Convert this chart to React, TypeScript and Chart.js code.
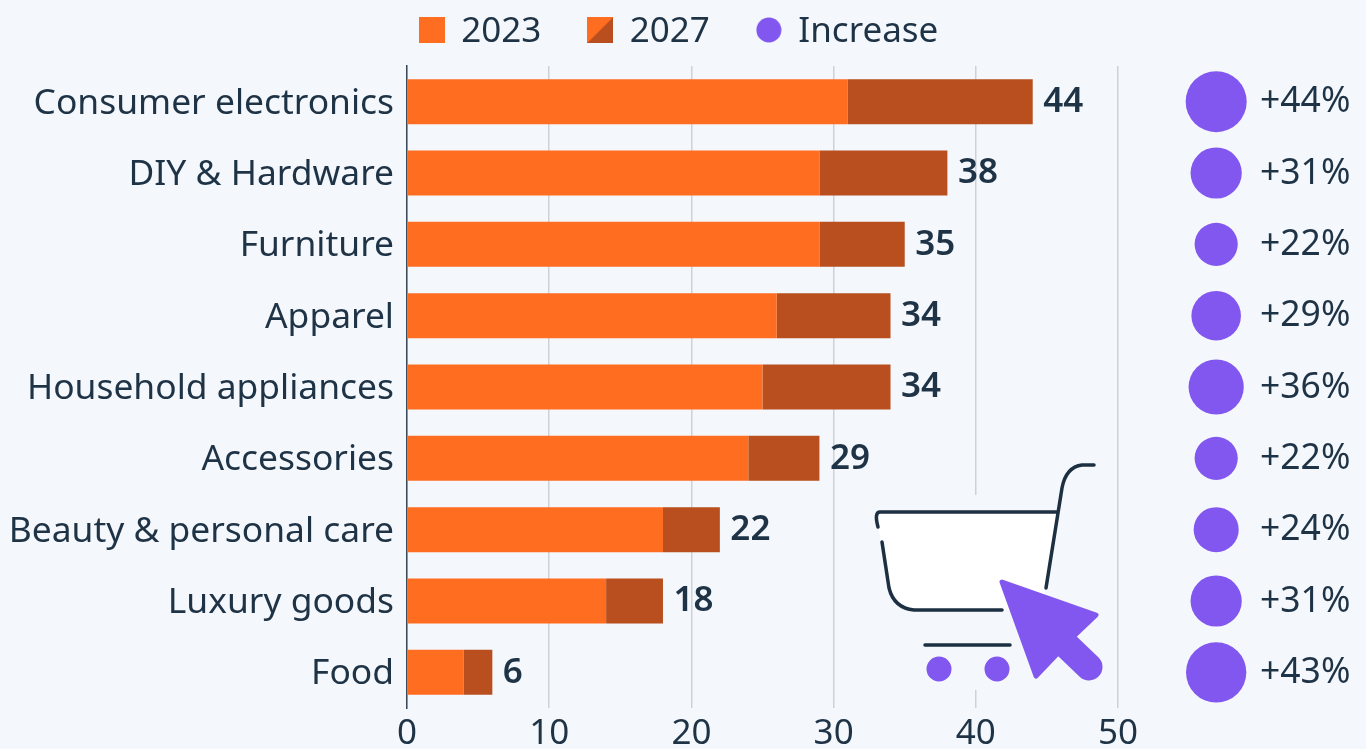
import React, { useEffect, useRef } from "react";
import { Chart, registerables } from "chart.js";

Chart.register(...registerables);

const categories = ["Consumer electronics", "DIY & Hardware", "Furniture", "Apparel", "Household appliances", "Accessories", "Beauty & personal care", "Luxury goods", "Food"];
const values2023 = [31, 29, 29, 26, 25, 24, 18, 14, 4];
const values2027 = [44, 38, 35, 34, 34, 29, 22, 18, 6];
const increases = [44, 31, 22, 29, 36, 22, 24, 31, 43];
const xTicks = [0, 10, 20, 30, 40, 50];

const FONT = '"Noto Sans"';
const TEXT = "#1f3346";
const ORANGE = "#ff6d21";
const RUST = "#b94f1f";
const PURPLE = "#8257f0";
const BG = "#f4f7fb";
const GRID = "#cdd2d7";
const BUBBLE_X = 56.9;
const BUBBLE_K = 4.6;
const X_MAX = 65.29;

function swatch(draw: (c: CanvasRenderingContext2D) => void) {
  const cv = document.createElement("canvas");
  cv.width = 26;
  cv.height = 30;
  draw(cv.getContext("2d")!);
  return cv;
}

const legendHeightPlugin = {
  id: "legendHeight",
  beforeLayout(chart: any) {
    const legend = chart.legend;
    if (legend && !legend.__fixedHeight) {
      legend.__fixedHeight = true;
      const fit = legend.fit;
      legend.fit = function () {
        fit.call(legend);
        legend.height = 98.5;
      };
    }
  },
};

const cartPlugin = {
  id: "cart",
  afterDatasetsDraw(chart: any) {
    const c = chart.ctx;
    c.save();
    c.fillStyle = BG;
    c.fillRect(868, 495, 236, 195);
    c.fillStyle = "#ffffff";
    c.beginPath();
    c.moveTo(876, 513);
    c.lineTo(1058, 513);
    c.lineTo(1042, 610);
    c.lineTo(912, 610);
    c.quadraticCurveTo(894, 608, 889, 588);
    c.closePath();
    c.fill();
    c.strokeStyle = "#1c3042";
    c.lineWidth = 3.5;
    c.lineCap = "round";
    c.beginPath();
    c.moveTo(878, 527);
    c.quadraticCurveTo(874, 512, 880, 512);
    c.lineTo(1058, 512);
    c.moveTo(882, 542);
    c.lineTo(889, 588);
    c.quadraticCurveTo(894, 608, 914, 610);
    c.lineTo(1002, 610);
    c.moveTo(1094, 465);
    c.lineTo(1082, 465);
    c.quadraticCurveTo(1066, 467, 1062, 488);
    c.lineTo(1046, 588);
    c.moveTo(925, 645);
    c.lineTo(1010, 645);
    c.stroke();
    c.fillStyle = PURPLE;
    c.beginPath();
    c.arc(939, 669, 12.5, 0, Math.PI * 2);
    c.arc(997, 669, 12.5, 0, Math.PI * 2);
    c.fill();
    c.strokeStyle = PURPLE;
    c.lineJoin = "round";
    c.lineWidth = 5;
    c.beginPath();
    c.moveTo(1002, 582);
    c.lineTo(1096, 615);
    c.lineTo(1075, 635);
    c.lineTo(1057, 654);
    c.lineTo(1036, 676);
    c.closePath();
    c.fill();
    c.stroke();
    c.lineCap = "round";
    c.lineWidth = 27;
    c.beginPath();
    c.moveTo(1066, 645);
    c.lineTo(1089, 667);
    c.stroke();
    c.restore();
  },
};

const labelsPlugin = {
  id: "rowLabels",
  afterDatasetsDraw(chart: any) {
    const c = chart.ctx;
    const totalBars = chart.getDatasetMeta(1).data;
    const bubbles = chart.getDatasetMeta(2).data;
    c.save();
    c.textBaseline = "middle";
    c.textAlign = "left";
    c.fillStyle = TEXT;
    c.font = `600 35px ${FONT}`;
    values2027.forEach((v, i) => {
      c.fillText(String(v), totalBars[i].x + 10.5, totalBars[i].y + 0.5);
    });
    c.font = `400 35.5px ${FONT}`;
    increases.forEach((v, i) => {
      c.fillText(`+${v}%`, 1260, bubbles[i].y + 0.5);
    });
    c.restore();
  },
};

export default function App() {
  const ref = useRef<HTMLCanvasElement | null>(null);
  useEffect(() => {
    document.body.style.margin = "0";
    document.body.style.background = BG;
    const legendIcons = [
      swatch((c) => {
        c.fillStyle = ORANGE;
        c.fillRect(0, 0, 26, 26);
      }),
      swatch((c) => {
        c.fillStyle = ORANGE;
        c.fillRect(0, 0, 26, 26);
        c.fillStyle = RUST;
        c.beginPath();
        c.moveTo(26, 0);
        c.lineTo(26, 26);
        c.lineTo(0, 26);
        c.closePath();
        c.fill();
      }),
      swatch((c) => {
        c.fillStyle = PURPLE;
        c.beginPath();
        c.arc(13, 13, 12.5, 0, Math.PI * 2);
        c.fill();
      }),
    ];
    const chart = new Chart(ref.current!, {
      type: "bar",
      data: {
        labels: categories,
        datasets: [
          { label: "2023", data: values2023, backgroundColor: ORANGE, stack: "s", barPercentage: 0.63, categoryPercentage: 1 },
          { label: "2027", data: values2027.map((v, i) => v - values2023[i]), backgroundColor: RUST, stack: "s", barPercentage: 0.63, categoryPercentage: 1 },
          {
            type: "bubble",
            label: "Increase",
            indexAxis: "x",
            data: increases.map((v, i) => ({ x: BUBBLE_X, y: categories[i], r: BUBBLE_K * Math.sqrt(v) })),
            backgroundColor: PURPLE,
            borderWidth: 0,
            clip: false,
          },
        ] as any,
      },
      options: {
        indexAxis: "y",
        animation: false,
        responsive: false,
        layout: { padding: { top: -32.5, left: -8, right: 0, bottom: 0 } },
        events: [],
        plugins: {
          tooltip: { enabled: false },
          legend: {
            display: true,
            position: "top",
            labels: {
              usePointStyle: true,
              boxWidth: 24,
              boxHeight: 26,
              padding: 47,
              color: TEXT,
              font: { family: FONT, size: 35 },
              generateLabels: () =>
                ["2023", "2027", "Increase"].map((text, i) => ({
                  text,
                  pointStyle: legendIcons[i],
                  fillStyle: "transparent",
                  strokeStyle: "transparent",
                  lineWidth: 0,
                  hidden: false,
                  datasetIndex: i,
                  fontColor: TEXT,
                })),
            },
          },
        },
        scales: {
          x: {
            type: "linear",
            min: 0,
            max: X_MAX,
            afterBuildTicks: (s: any) => {
              s.ticks = xTicks.map((value) => ({ value }));
            },
            afterFit: (s: any) => {
              s.height = 41;
            },
            grid: { color: GRID, lineWidth: 1.5, drawTicks: false },
            border: { display: false },
            ticks: { color: TEXT, padding: 5, maxRotation: 0, autoSkip: false, font: { family: FONT, size: 35 } },
          },
          y: {
            type: "category",
            offset: true,
            afterFit: (s: any) => {
              s.width = 415;
            },
            grid: { display: false, drawTicks: false },
            border: { display: true, color: "#3a4a5a", width: 1.5 },
            ticks: { color: TEXT, padding: 13, labelOffset: 2, autoSkip: false, font: { family: FONT, size: 35.4 } },
          },
        },
      } as any,
      plugins: [legendHeightPlugin, labelsPlugin, cartPlugin],
    });
    return () => chart.destroy();
  }, []);
  return (
    <div style={{ position: "fixed", left: 0, top: 0, width: 1366, height: 749, background: BG }}>
      <canvas ref={ref} width={1366} height={749} style={{ display: "block" }} />
    </div>
  );
}
